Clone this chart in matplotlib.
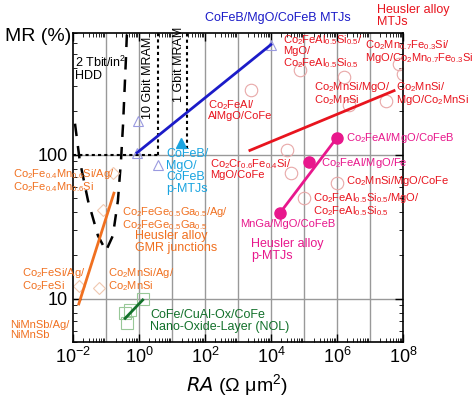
import matplotlib
matplotlib.use("Agg")
import matplotlib.pyplot as plt
import numpy as np

plt.rcParams['font.family'] = ['Liberation Sans', 'DejaVu Sans']
plt.rcParams['mathtext.default'] = 'regular'

# data (RA in Ohm um^2, MR in %)
blue_line_x = [0.87, 1e4]; blue_line_y = [103, 580]
tri_open_x = [0.87, 1e4, 0.93, 3.8]; tri_open_y = [103, 580, 172, 85]
tri_fill_x = [19]; tri_fill_y = [121]
red_line_x = [2300, 5.4e7]; red_line_y = [107, 278]
circ_x = [2450, 7.6e4, 1.6e6, 2.3e6, 3e7, 7.6e7, 1e8, 3e4, 4e4, 1e6, 1e5]
circ_y = [282, 384, 348, 222, 237, 428, 365, 108, 75, 64, 50]
mag_x = [1.9e4, 1.4e5, 1e6]; mag_y = [39.5, 89.5, 131]
mag_line_x = [1.9e4, 1e6]; mag_line_y = [39.5, 131]
orange_line_x = [0.015, 0.174]; orange_line_y = [9.2, 54]
diam_x = [0.16, 0.081, 0.015, 0.061]; diam_y = [74, 41.5, 12.3, 11.8]
green_line_x = [0.38, 1.3]; green_line_y = [7.3, 9.8]
sq_x = [1.3, 0.38, 0.54, 0.44]; sq_y = [10, 7.9, 8.3, 6.8]
hdd_x = [0.0115, 0.016, 0.0285, 0.057, 0.1, 0.162, 0.23, 0.285, 0.33, 0.40, 0.43]
hdd_y = [164, 91, 48, 27.4, 21.5, 27.4, 48, 91, 164, 450, 690]
mram10_x = 3.8; mram1_x = 28

BLUE = '#1b1bc8'; RED = '#e8141e'; MAG = '#e8178c'; ORG = '#f07020'
GRN = '#12702a'; CYAN = '#1aa4e0'

fig = plt.figure(figsize=(4.74, 4.01), dpi=100)
ax = fig.add_axes([0.154, 0.147, 0.696, 0.771])
ax.set_xscale('log'); ax.set_yscale('log')
ax.set_xlim(1e-2, 1e8); ax.set_ylim(5, 700)
for d in range(-1, 8):
    ax.axvline(10.0**d, color='#999999', lw=1, zorder=0)
ax.axhline(10, color='#999999', lw=1, zorder=0)
ax.axhline(100, color='#999999', lw=1, zorder=0)
ax.plot([1e-2, mram10_x], [100, 100], color='k', ls=(0, (1.5, 1.5)), lw=1.5)
ax.plot([mram10_x, mram10_x], [100, 700], color='k', ls=(0, (1.5, 1.5)), lw=1.5)
ax.plot([mram1_x, mram1_x], [110, 700], color='k', ls=(0, (1.5, 1.5)), lw=1.5)
ax.plot(hdd_x, hdd_y, color='k', ls=(0, (5, 4)), lw=1.8)

ax.plot(tri_open_x, tri_open_y, '^', mfc='none', mec='#9a9ae0', ms=7, mew=0.8)
ax.plot(tri_fill_x, tri_fill_y, '^', color=CYAN, ms=7)
ax.plot(blue_line_x, blue_line_y, color=BLUE, lw=2)
ax.plot(circ_x, circ_y, 'o', mfc='none', mec='#e8a8a8', ms=9, mew=0.8)
ax.plot(red_line_x, red_line_y, color=RED, lw=2)
ax.plot(mag_line_x, mag_line_y, '-', color=MAG, lw=2)
ax.plot(mag_x, mag_y, 'o', color=MAG, ms=8)
ax.plot(diam_x, diam_y, 'D', mfc='none', mec='#f0c8b0', ms=6, mew=0.8)
ax.plot(orange_line_x, orange_line_y, color=ORG, lw=2)
ax.plot(sq_x, sq_y, 's', mfc='none', mec='#98c898', ms=9, mew=0.8)
ax.plot(green_line_x, green_line_y, color=GRN, lw=2)

ax.tick_params(which='both', direction='in', top=True, right=True)
ax.tick_params(which='major', length=6, width=1, labelsize=13)
ax.tick_params(which='minor', length=3)
ax.set_xticks([10.0**k for k in range(-2, 9, 2)])
ax.set_xticklabels([f'$10^{{{k}}}$' for k in range(-2, 9, 2)])
ax.set_yticks([10, 100]); ax.set_yticklabels(['10', '100'])
ax.xaxis.set_minor_locator(matplotlib.ticker.LogLocator(base=10, subs=np.arange(2, 10), numticks=30))
ax.yaxis.set_minor_locator(matplotlib.ticker.LogLocator(base=10, subs=np.arange(2, 10), numticks=30))
ax.yaxis.set_minor_formatter(matplotlib.ticker.NullFormatter())
ax.xaxis.set_minor_formatter(matplotlib.ticker.NullFormatter())
ax.spines[:].set_linewidth(1.2)

def T(x, y, s, c='k', size=8, **kw):
    fig.text(x / 474, 1 - y / 401, s, color=c, fontsize=size, va='top', ha='left', linespacing=0.95, **kw)

T(5, 28, 'MR (%)', size=14)
fig.text(237 / 474, 1 - 372 / 401, r'$\it{RA}$ ($\Omega$ $\mu$m$^2$)', fontsize=14, ha='center', va='top')
T(205, 12, 'CoFeB/MgO/CoFeB MTJs', BLUE, 9)
T(377, 4, 'Heusler alloy\nMTJs', RED, 9)
T(75, 55, '2 Tbit/in$^2$\nHDD', 'k', 9)
fig.text(148 / 474, 1 - 78 / 401, '10 Gbit MRAM', rotation=90, fontsize=9, ha='center', va='center')
fig.text(179 / 474, 1 - 64 / 401, '1 Gbit MRAM', rotation=90, fontsize=9, ha='center', va='center')
T(283, 33, 'Co$_2$FeAl$_{0.5}$Si$_{0.5}$/\nMgO/\nCo$_2$FeAl$_{0.5}$Si$_{0.5}$', RED)
T(365, 38, 'Co$_2$Mn$_{0.7}$Fe$_{0.3}$Si/\nMgO/Co$_2$Mn$_{0.7}$Fe$_{0.3}$Si', RED)
T(208, 98, 'Co$_2$FeAl/\nAlMgO/CoFe', RED)
T(314, 80, 'Co$_2$MnSi/MgO/\nCo$_2$MnSi', RED)
T(396, 80, 'Co$_2$MnSi/\nMgO/Co$_2$MnSi', RED)
T(210, 157, 'Co$_2$Cr$_{0.6}$Fe$_{0.4}$Si/\nMgO/CoFe', RED)
T(346, 131, 'Co$_2$FeAl/MgO/CoFeB', MAG)
T(321, 156, 'Co$_2$FeAl/MgO/Fe', MAG)
T(346, 174, 'Co$_2$MnSi/MgO/CoFe', RED)
T(313, 191, 'Co$_2$FeAl$_{0.5}$Si$_{0.5}$/MgO/\nCo$_2$FeAl$_{0.5}$Si$_{0.5}$', RED)
T(240, 219, 'MnGa/MgO/CoFeB', MAG)
T(251, 238, 'Heusler alloy\np-MTJs', MAG, 9)
T(166, 148, 'CoFeB/\nMgO/\nCoFeB\np-MTJs', CYAN, 9)
T(13, 167, 'Co$_2$Fe$_{0.4}$Mn$_{0.6}$Si/Ag/\nCo$_2$Fe$_{0.4}$Mn$_{0.6}$Si', ORG)
T(122, 205, 'Co$_2$FeGe$_{0.5}$Ga$_{0.5}$/Ag/\nCo$_2$FeGe$_{0.5}$Ga$_{0.5}$', ORG)
T(135, 230, 'Heusler alloy\nGMR junctions', ORG, 9)
T(22, 266, 'Co$_2$FeSi/Ag/\nCo$_2$FeSi', ORG)
T(108, 266, 'Co$_2$MnSi/Ag/\nCo$_2$MnSi', ORG)
T(10, 320, 'NiMnSb/Ag/\nNiMnSb', ORG)
T(150, 309, 'CoFe/CuAl-Ox/CoFe\nNano-Oxide-Layer (NOL)', GRN, 9)

fig.savefig('out.png', dpi=100)
